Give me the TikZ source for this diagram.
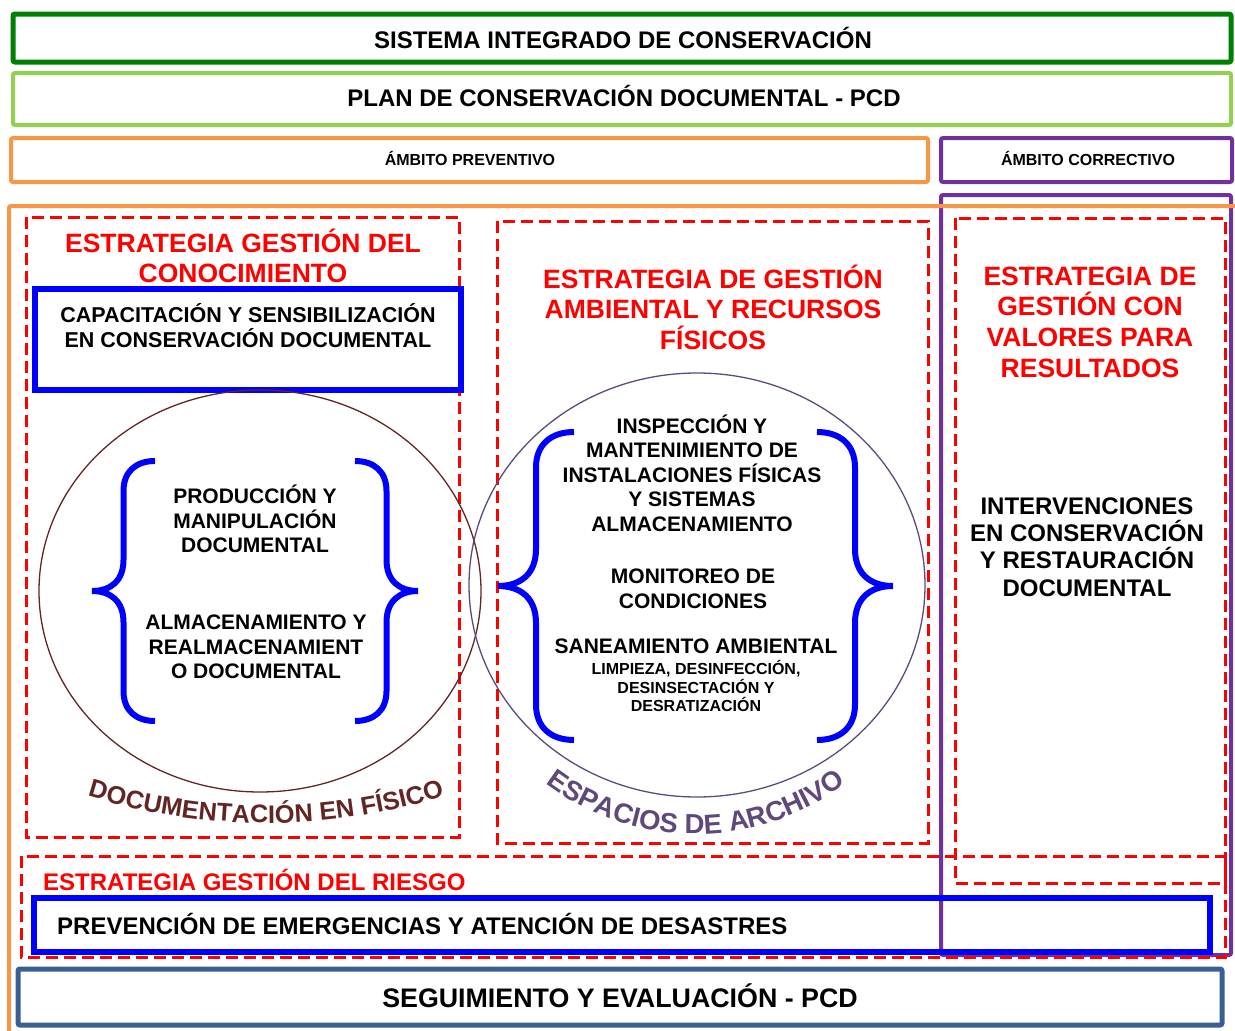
\documentclass[tikz,border=0pt]{standalone}
\usepackage{fontspec}
\setmainfont{Liberation Sans}
\usetikzlibrary{decorations.text}
\definecolor{verdeosc}{RGB}{0,128,0}
\definecolor{verdecla}{RGB}{146,208,80}
\definecolor{naranja}{RGB}{247,150,70}
\definecolor{morado}{RGB}{112,48,160}
\definecolor{azulacero}{RGB}{56,96,146}
\definecolor{cafe}{RGB}{99,37,35}
\definecolor{lila}{RGB}{95,73,122}
\newcommand{\tam}[2]{\fontsize{#1}{#2}\selectfont}
\tikzset{
  marco/.style={line width=4pt, rounded corners=2pt},
  estrategia/.style={draw=red, line width=3pt, dash pattern=on 12pt off 6pt},
  cajaazul/.style={draw=blue, line width=5.5pt},
  texto/.style={font=\bfseries, align=center, inner sep=0pt},
  titulo/.style={texto, text=red},
  llave/.pic={\draw[blue, line width=6pt] (1,1) .. controls (0.7,1) and (0.5,0.92) .. (0.5,0.77) -- (0.5,0.24) .. controls (0.5,0.08) and (0.3,0) .. (0,0) .. controls (0.3,0) and (0.5,-0.08) .. (0.5,-0.24) -- (0.5,-0.77) .. controls (0.5,-0.92) and (0.7,-1) .. (1,-1);}
}
\begin{document}
\begin{tikzpicture}[x=1pt, y=-1pt]
\useasboundingbox (0,0) rectangle (1235,1031);
\draw[marco, verdeosc, line width=5pt] (13,14) rectangle (1231,62);
\draw[marco, verdecla] (13,73) rectangle (1231,125);
\draw[marco, naranja] (11,138) rectangle (928,182);
\draw[marco, morado] (941,138) rectangle (1232,182);
\node[texto, font=\bfseries\tam{24}{29}] (sistema) at (623,38) {SISTEMA INTEGRADO DE CONSERVACIÓN};
\node[texto, font=\bfseries\tam{24}{29}] (plan) at (624,96) {PLAN DE CONSERVACIÓN DOCUMENTAL - PCD};
\node[texto, font=\bfseries\tam{16}{19}] (preventivo) at (470,158) {ÁMBITO PREVENTIVO};
\node[texto, font=\bfseries\tam{16}{19}] (correctivo) at (1088,158) {ÁMBITO CORRECTIVO};
\draw[marco, morado] (941,195) rectangle (1231,955);
\draw[marco, naranja] (9,1031) -- (9,206) -- (1235,206);
\draw[estrategia] (26,217) rectangle (459,837);
\draw[estrategia] (497,221) rectangle (928,843);
\draw[estrategia] (955,218) rectangle (1225,883);
\draw[estrategia] (21,856) rectangle (1225,957);
\draw[cajaazul] (35,289) rectangle (461,390);
\draw[cajaazul] (34,898) rectangle (1210,952);
\draw[marco, azulacero, line width=5pt] (18,969) rectangle (1222,1025);
\node[titulo, font=\bfseries\tam{26.5}{30}] (conocimiento) at (243,256) {ESTRATEGIA GESTIÓN DEL\\CONOCIMIENTO};
\node[texto, font=\bfseries\tam{21.5}{25}] (capacitacion) at (248,326) {CAPACITACIÓN Y SENSIBILIZACIÓN\\EN CONSERVACIÓN DOCUMENTAL};
\node[titulo, font=\bfseries\tam{26.5}{30.5}] (ambiental) at (713,307) {ESTRATEGIA DE GESTIÓN\\AMBIENTAL Y RECURSOS\\FÍSICOS};
\node[titulo, font=\bfseries\tam{26.5}{30.7}] (valores) at (1090,322) {ESTRATEGIA DE\\GESTIÓN CON\\VALORES PARA\\RESULTADOS};
\node[texto, font=\bfseries\tam{24}{27.3}] (intervenciones) at (1087,547) {INTERVENCIONES\\EN CONSERVACIÓN\\Y RESTAURACIÓN\\DOCUMENTAL};
\node[titulo, font=\bfseries\tam{24}{29}, anchor=west] (riesgo) at (43,880) {ESTRATEGIA GESTIÓN DEL RIESGO};
\node[texto, font=\bfseries\tam{24}{29}, anchor=west] (prevencion) at (57,924) {PREVENCIÓN DE EMERGENCIAS Y ATENCIÓN DE DESASTRES};
\node[texto, font=\bfseries\tam{26.8}{30}] (seguimiento) at (620,996) {SEGUIMIENTO Y EVALUACIÓN - PCD};
\draw[cafe, line width=1.3pt] (260,591) ellipse [x radius=221, y radius=201];
\draw[lila, line width=1.3pt] (697,585) ellipse [x radius=228, y radius=212];
\pic[xscale=63, yscale=130] at (92,591) {llave};
\pic[xscale=-63, yscale=130] at (418,591) {llave};
\pic[xscale=76, yscale=154] at (498,586) {llave};
\pic[xscale=-76, yscale=154] at (893,586) {llave};
\node[texto, font=\bfseries\tam{21}{24.5}] (produccion) at (255,519) {PRODUCCIÓN Y\\MANIPULACIÓN\\DOCUMENTAL};
\node[texto, font=\bfseries\tam{21}{24.5}] (almacenamiento) at (256,647) {ALMACENAMIENTO Y\\REALMACENAMIENT\\O DOCUMENTAL};
\node[texto, font=\bfseries\tam{21}{24.5}] (inspeccion) at (692,473) {INSPECCIÓN Y\\MANTENIMIENTO DE\\INSTALACIONES FÍSICAS\\Y SISTEMAS\\ALMACENAMIENTO};
\node[texto, font=\bfseries\tam{21}{24.5}] (monitoreo) at (693,589) {MONITOREO DE\\CONDICIONES};
\node[texto, font=\bfseries\tam{21}{24.5}] (saneamiento) at (696,646) {SANEAMIENTO AMBIENTAL};
\node[texto, font=\bfseries\tam{16}{18.5}] (limpieza) at (696,686) {LIMPIEZA, DESINFECCIÓN,\\DESINSECTACIÓN Y\\DESRATIZACIÓN};
\path[decorate, decoration={text along path, text align=center, text color=cafe, text={|\bfseries\tam{25.4}{30}|DOCUMENTACIÓN EN FÍSICO}}] (266,223) ++(115:600) arc[start angle=115, end angle=65, radius=600];
\path[decorate, decoration={text along path, text align=center, text color=lila, text={|\bfseries\tam{27.5}{32}|ESPACIOS DE ARCHIVO}}] (696,585) ++(145:249) arc[start angle=145, end angle=35, radius=249];
\end{tikzpicture}
\end{document}
